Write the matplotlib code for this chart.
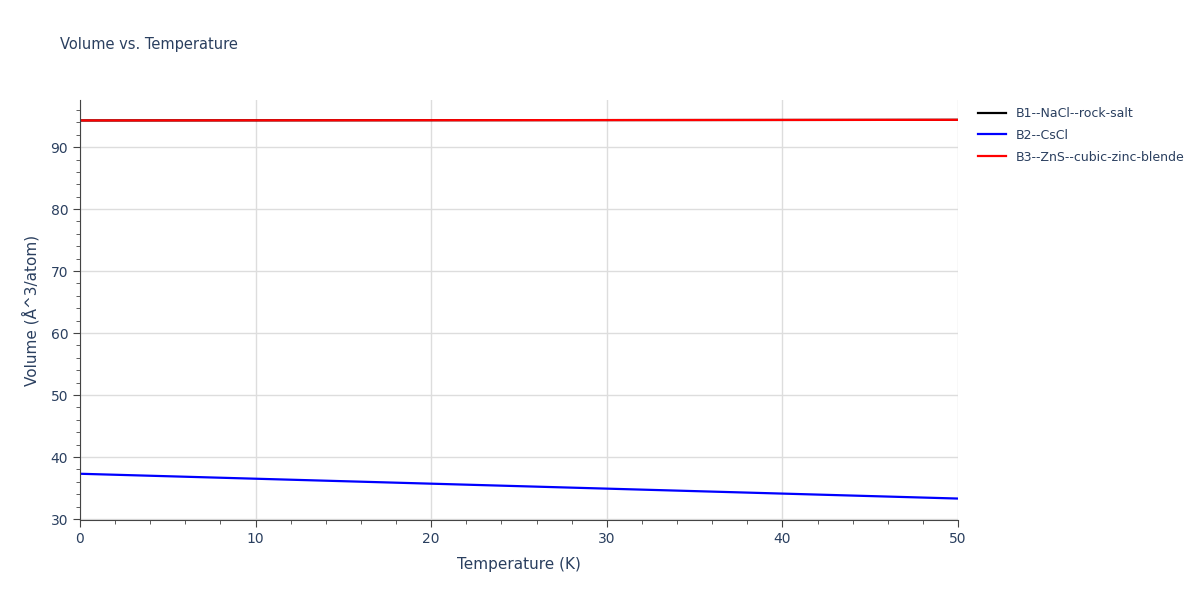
import matplotlib
matplotlib.use("Agg")
import matplotlib.pyplot as plt
from matplotlib.ticker import MultipleLocator

temperature = [0, 10, 20, 30, 40, 50]
volume_b1 = [94.3, 94.32, 94.34, 94.36, 94.38, 94.4]
volume_b2 = [37.3, 36.5, 35.7, 34.9, 34.1, 33.3]
volume_b3 = [94.3, 94.32, 94.34, 94.36, 94.38, 94.4]
labels = ["B1--NaCl--rock-salt", "B2--CsCl", "B3--ZnS--cubic-zinc-blende"]

text_color = "#2a3f5f"
fig = plt.figure(figsize=(12, 6), dpi=100)
ax = fig.add_axes([80 / 1200, 80 / 600, 878 / 1200, 420 / 600])

ax.plot(temperature, volume_b1, color="black", lw=1.6, label=labels[0])
ax.plot(temperature, volume_b2, color="blue", lw=1.6, label=labels[1])
ax.plot(temperature, volume_b3, color="red", lw=1.6, label=labels[2])

ax.set_xlim(0, 50)
ax.set_ylim(29.84, 97.6)
ax.xaxis.set_major_locator(MultipleLocator(10))
ax.xaxis.set_minor_locator(MultipleLocator(2))
ax.yaxis.set_major_locator(MultipleLocator(10))
ax.yaxis.set_minor_locator(MultipleLocator(2))
ax.grid(True, which="major", color="#dddddd", lw=1)
ax.set_axisbelow(True)
for side in ("top", "right"):
    ax.spines[side].set_visible(False)
for side in ("left", "bottom"):
    ax.spines[side].set_color("#444444")
ax.tick_params(which="both", colors="#444444", labelcolor=text_color, labelsize=10)
ax.tick_params(which="major", length=5)
ax.tick_params(which="minor", length=3)

ax.set_xlabel("Temperature (K)", color=text_color, fontsize=11, labelpad=8)
ax.set_ylabel("Volume (Å^3/atom)", color=text_color, fontsize=11, labelpad=8)
fig.text(60 / 1200, 1 - 45 / 600, "Volume vs. Temperature", color=text_color,
         fontsize=10.5, va="center")

ax.legend(loc="upper left", bbox_to_anchor=(1.01, 1.01), frameon=False,
          labelcolor=text_color, fontsize=9, handlelength=2.2, labelspacing=0.7)

fig.savefig("out.png", dpi=100)
